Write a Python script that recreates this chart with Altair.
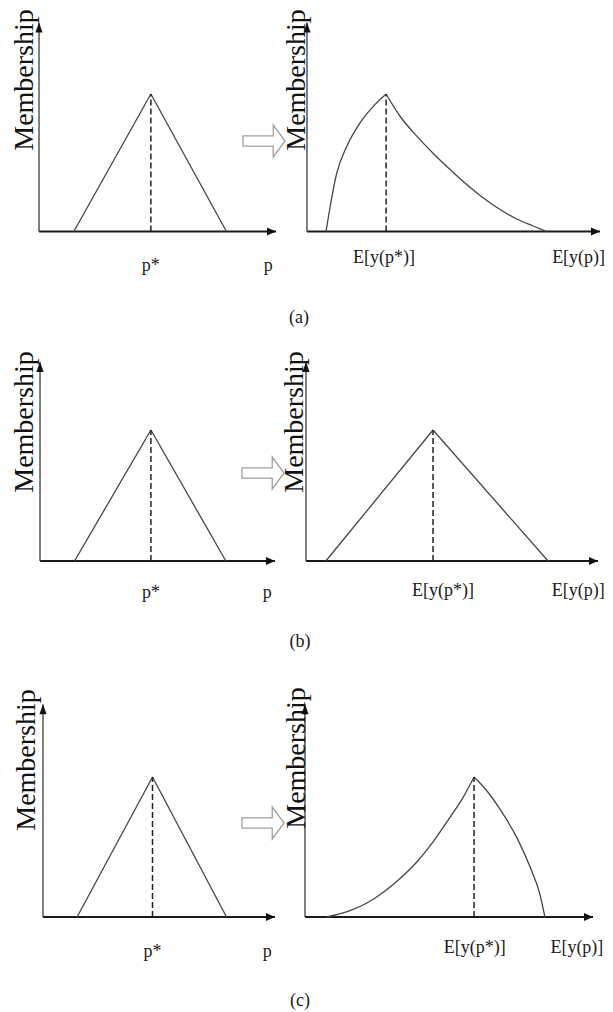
import altair as alt
import pandas as pd

# ---------------- text ----------------
AXIS_TITLE = "Membership"
CAPTIONS = ["(a)", "(b)", "(c)"]
LEFT_TICK_TEXT = ["p*", "p"]
RIGHT_TICK_TEXT = ["E[y(p*)]", "E[y(p)]"]

# ---------------- data ----------------
# left panels: triangular membership of p (same in all three rows)
LEFT_P = [1.47, 4.72, 7.91]
LEFT_MU = [0.0, 1.0, 0.0]
LEFT_TICK_P = [4.72, 9.67]

# (a) right: membership of E[y(p)]
A_RIGHT_E = [0.65, 0.79, 1.01, 1.36, 1.81, 2.26, 2.70, 3.17, 3.74, 4.31,
             4.88, 5.45, 6.02, 6.59, 7.16, 7.72, 8.18]
A_RIGHT_MU = [0.0, 0.18, 0.42, 0.62, 0.79, 0.91, 1.0, 0.84, 0.695, 0.567,
              0.451, 0.342, 0.244, 0.16, 0.091, 0.04, 0.0]
A_RIGHT_TICK_E = [2.63, 9.27]

# (b) right
B_RIGHT_E = [0.68, 4.35, 8.29]
B_RIGHT_MU = [0.0, 1.0, 0.0]
B_RIGHT_TICK_E = [4.69, 9.32]

# (c) right
C_RIGHT_E = [0.76, 1.56, 2.15, 2.71, 3.30, 3.89, 4.44, 5.03, 5.49, 5.87,
             6.32, 6.77, 7.36, 7.81, 8.16, 8.33]
C_RIGHT_MU = [0.0, 0.045, 0.10, 0.175, 0.275, 0.395, 0.535, 0.71, 0.855, 1.0,
              0.90, 0.77, 0.565, 0.36, 0.16, 0.0]
C_RIGHT_TICK_E = [5.89, 9.44]

AXIS_END_X = 10.0     # arrow tip of horizontal axis (data units)
AXIS_END_MU = 1.52    # arrow tip of vertical axis (membership units)

# ---------------- layout / style ----------------
M = 8  # page margin
FONT = "Liberation Serif"
LINE = "#454545"
W, H = 597, 1004

ROWS = [
    dict(left=(39, 276), right=(307, 600), base=231.5, peak=94, arrow=(264, 141),
         cap=(299, 318), lt_y=266, rt_y=258, tl=(33, 80), tr=(305, 80)),
    dict(left=(40, 275), right=(306, 598), base=561, peak=430, arrow=(263, 473),
         cap=(300, 642), lt_y=593, rt_y=591, tl=(33, 422), tr=(303, 422)),
    dict(left=(43, 275), right=(305, 593), base=917, peak=777, arrow=(263, 823),
         cap=(300, 1001), lt_y=952, rt_y=948, tl=(35, 760), tr=(305, 758)),
]

X_HEAD = "M0,0 L-1,-0.45 L-1,0.45 Z"
Y_HEAD = "M0,0 L-0.36,1 L0.36,1 Z"
BLOCK = "M-1,-0.24 L0.44,-0.24 L0.44,-0.76 L1,0 L0.44,0.76 L0.44,0.24 L-1,0.24 Z"


def branches(xv, mv):
    k = mv.index(max(mv))
    rows = []
    for i, (x, m) in enumerate(zip(xv, mv)):
        if i <= k:
            rows.append(dict(x=x, m=m, branch="rise", o=i))
        if i >= k:
            rows.append(dict(x=x, m=m, branch="fall", o=i))
    return pd.DataFrame(rows), xv[k]


def panel(xr, base, peak, xv, mv, tick_text, tick_x, tick_y, title_xy):
    sx = alt.Scale(domain=[0, AXIS_END_X], range=[xr[0] - M, xr[1] - M], nice=False, zero=False)
    sy = alt.Scale(domain=[0, 1], range=[base - M, peak - M], nice=False, zero=False)

    def X(f):
        return alt.X(f, type="quantitative", scale=sx, axis=None)

    def Y(f):
        return alt.Y(f, type="quantitative", scale=sy, axis=None)

    df, peak_x = branches(xv, mv)
    layers = []
    # x axis line
    layers.append(alt.Chart(pd.DataFrame({"x": [0.0], "x2": [AXIS_END_X], "m": [0.0]}))
                  .mark_rule(color="#1a1a1a", strokeWidth=2)
                  .encode(x=X("x"), x2="x2", y=Y("m")))
    # y axis line
    layers.append(alt.Chart(pd.DataFrame({"x": [0.0], "m": [0.0], "m2": [AXIS_END_MU]}))
                  .mark_rule(color="#4a4a4a", strokeWidth=1.4)
                  .encode(x=X("x"), y=Y("m"), y2="m2"))
    # arrow heads
    layers.append(alt.Chart(pd.DataFrame({"x": [AXIS_END_X], "m": [0.0]}))
                  .mark_point(shape=X_HEAD, filled=True, size=324, color="#111111",
                              opacity=1, strokeWidth=0)
                  .encode(x=X("x"), y=Y("m")))
    layers.append(alt.Chart(pd.DataFrame({"x": [0.0], "m": [AXIS_END_MU]}))
                  .mark_point(shape=Y_HEAD, filled=True, size=400, color="#111111",
                              opacity=1, strokeWidth=0)
                  .encode(x=X("x"), y=Y("m")))
    # membership curve
    layers.append(alt.Chart(df)
                  .mark_line(interpolate="monotone", color=LINE, strokeWidth=1.3)
                  .encode(x=X("x"), y=Y("m"), detail="branch:N", order="o:Q"))
    # dashed line at peak
    layers.append(alt.Chart(pd.DataFrame({"x": [peak_x], "m": [0.0], "m2": [1.0]}))
                  .mark_rule(color="#222222", strokeWidth=1.5, strokeDash=[6, 3])
                  .encode(x=X("x"), y=Y("m"), y2="m2"))
    # tick labels
    layers.append(alt.Chart(pd.DataFrame({"x": tick_x, "t": tick_text}))
                  .mark_text(font=FONT, fontSize=18, color="#1a1a1a", align="center",
                             baseline="middle")
                  .encode(x=X("x"), y=alt.value(tick_y - M), text="t:N"))
    # axis title
    layers.append(alt.Chart(pd.DataFrame({"t": [AXIS_TITLE]}))
                  .mark_text(font=FONT, fontSize=28, color="#111111", angle=270,
                             align="center", baseline="alphabetic")
                  .encode(x=alt.value(title_xy[0] - M), y=alt.value(title_xy[1] - M), text="t:N"))
    return layers


RIGHTS = [
    (A_RIGHT_E, A_RIGHT_MU, A_RIGHT_TICK_E),
    (B_RIGHT_E, B_RIGHT_MU, B_RIGHT_TICK_E),
    (C_RIGHT_E, C_RIGHT_MU, C_RIGHT_TICK_E),
]

all_layers = []
for row, (re, rm, rt), cap in zip(ROWS, RIGHTS, CAPTIONS):
    all_layers += panel(row["left"], row["base"], row["peak"], LEFT_P, LEFT_MU,
                        LEFT_TICK_TEXT, LEFT_TICK_P, row["lt_y"], row["tl"])
    all_layers += panel(row["right"], row["base"], row["peak"], re, rm,
                        RIGHT_TICK_TEXT, rt, row["rt_y"], row["tr"])
    # hollow transformation arrow
    all_layers.append(alt.Chart(pd.DataFrame({"k": [1]}))
                      .mark_point(shape=BLOCK, size=1764, filled=True, fill="white",
                                  stroke="#a0a0a0", strokeWidth=1.3, opacity=1)
                      .encode(x=alt.value(row["arrow"][0] - M), y=alt.value(row["arrow"][1] - M)))
    # caption
    all_layers.append(alt.Chart(pd.DataFrame({"t": [cap]}))
                      .mark_text(font=FONT, fontSize=18, color="#1a1a1a", align="center",
                                 baseline="middle")
                      .encode(x=alt.value(row["cap"][0] - M), y=alt.value(row["cap"][1] - M),
                              text="t:N"))

chart = (alt.layer(*all_layers)
         .resolve_scale(x="independent", y="independent")
         .properties(width=W, height=H, padding=0, autosize="none", background="white")
         .configure_view(stroke=None))

chart.save("out.html", embed_options={"renderer": "svg", "actions": False})
